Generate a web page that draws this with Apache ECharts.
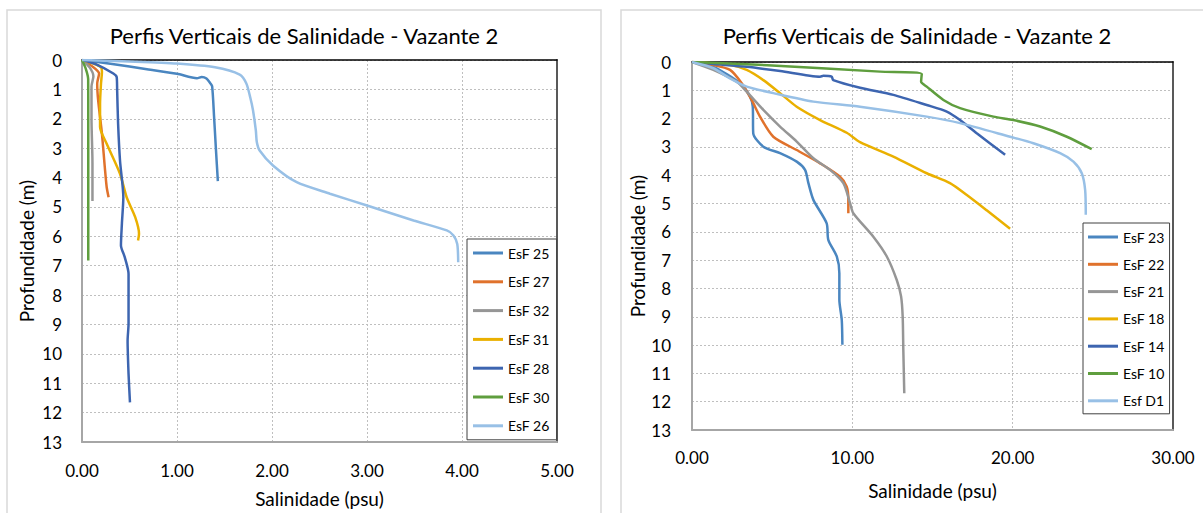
<!DOCTYPE html>
<html>
<head>
<meta charset="utf-8">
<script src="https://cdn.jsdelivr.net/npm/echarts@6/dist/echarts.min.js"></script>
<style>html,body{margin:0;padding:0;background:#fff;}#c{width:1203px;height:513px;}</style>
</head>
<body>
<div id="c"></div>
<script>
// ---- Data (salinity psu, depth m) ----
const titleText = 'Perfis Verticais de Salinidade - Vazante 2';
const xName = 'Salinidade (psu)';
const yName = 'Profundidade (m)';

// Left chart
const leftNames = ['EsF 25', 'EsF 27', 'EsF 32', 'EsF 31', 'EsF 28', 'EsF 30', 'EsF 26'];
const esf25 = [[0,0],[0.3,0.13],[0.7,0.32],[1.0,0.47],[1.21,0.62],[1.26,0.58],[1.31,0.63],[1.35,0.79],[1.37,0.9],[1.39,1.92],[1.41,3.05],[1.43,4.12]];
const esf27 = [[0,0],[0.1,0.2],[0.18,0.46],[0.16,0.8],[0.17,1.37],[0.21,2.51],[0.24,3.65],[0.26,4.33],[0.28,4.67]];
const esf32 = [[0,0],[0.08,0.25],[0.12,0.55],[0.1,0.9],[0.1,2.0],[0.11,3.5],[0.11,4.8]];
const esf31 = [[0,0],[0.12,0.12],[0.2,0.25],[0.21,0.4],[0.2,0.8],[0.19,1.5],[0.19,2.28],[0.26,2.85],[0.4,3.87],[0.47,4.67],[0.56,5.35],[0.6,5.91],[0.59,6.14]];
const esf28 = [[0,0],[0.15,0.15],[0.33,0.46],[0.365,0.58],[0.37,1.03],[0.38,2.17],[0.4,3.42],[0.435,4.67],[0.42,5.57],[0.41,6.31],[0.45,6.71],[0.49,7.28],[0.49,8.19],[0.49,8.98],[0.48,9.55],[0.49,10.68],[0.505,11.65]];
const esf30 = [[0,0],[0.04,0.3],[0.065,0.65],[0.066,2],[0.066,4],[0.066,6.82]];
const esf26 = [[0,0],[0.5,0.05],[1.0,0.12],[1.4,0.25],[1.66,0.5],[1.73,0.8],[1.77,1.26],[1.8,1.71],[1.83,2.4],[1.84,2.79],[1.87,3.08],[2.01,3.59],[2.26,4.16],[2.61,4.55],[3.0,4.95],[3.49,5.46],[3.84,5.8],[3.91,5.97],[3.95,6.26],[3.96,6.88]];
const leftData = [esf25, esf27, esf32, esf31, esf28, esf30, esf26];

// Right chart
const rightNames = ['EsF 23', 'EsF 22', 'EsF 21', 'EsF 18', 'EsF 14', 'EsF 10', 'Esf D1'];
const esf23 = [[0,0],[1.33,0.17],[2.99,0.75],[3.62,1.22],[3.79,1.58],[3.82,2.52],[4.45,2.99],[5.49,3.22],[6.53,3.52],[7.05,3.81],[7.26,4.28],[7.57,4.87],[8.4,5.7],[8.5,6.28],[9.03,6.87],[9.19,7.46],[9.19,8.4],[9.34,9.11],[9.38,9.99]];
const esf22 = [[0,0],[1.33,0.11],[2.37,0.28],[3.1,0.75],[3.72,1.34],[4.24,1.93],[5.07,2.64],[6.53,3.11],[7.99,3.58],[9.23,4.05],[9.65,4.4],[9.75,4.87],[9.75,5.34]];
const esf21 = [[0,0],[1.33,0.28],[2.79,0.7],[3.41,1.05],[4.45,1.69],[5.49,2.28],[6.53,2.81],[7.57,3.4],[8.61,3.81],[9.44,4.28],[9.86,4.99],[10.06,5.34],[11.31,6.17],[12.15,6.87],[12.77,7.7],[13.04,8.28],[13.14,8.99],[13.18,10.17],[13.24,11.7]];
const esf18 = [[0,0],[2.37,0.11],[3.41,0.28],[4.45,0.64],[5.49,1.1],[6.53,1.58],[7.99,2.05],[9.65,2.5],[10.48,2.83],[12.56,3.34],[14.64,3.93],[16.09,4.28],[17.14,4.7],[18.38,5.24],[19.84,5.89]];
const esf14 = [[0,0],[1.33,0.07],[3.41,0.17],[5.5,0.32],[7.99,0.52],[8.19,0.49],[8.71,0.52],[8.81,0.64],[10.48,0.91],[12.56,1.16],[14.64,1.52],[15.89,1.75],[16.72,2.05],[17.76,2.52],[19.53,3.28]];
const esf10 = [[0,0],[5,0.12],[11.73,0.34],[14.33,0.42],[14.29,0.7],[14.64,0.87],[15.68,1.34],[16.72,1.63],[18.8,1.93],[20.04,2.05],[21.71,2.28],[23.38,2.64],[24.93,3.08]];
const esfD1 = [[0,0],[1.33,0.22],[2.37,0.58],[3.41,0.87],[5.07,1.1],[7.57,1.4],[10.48,1.58],[14.64,1.93],[16.72,2.16],[19.84,2.64],[21.29,2.87],[22.96,3.22],[23.79,3.52],[24.31,3.93],[24.52,4.52],[24.56,5.4]];
const rightData = [esf23, esf22, esf21, esf18, esf14, esf10, esfD1];

const depthMin = 0, depthMax = 13, depthStep = 1;
const leftXMin = 0, leftXMax = 5, leftXStep = 1;
const rightXMin = 0, rightXMax = 30, rightXStep = 10;

// ---- Styles ----
const colors = ['#4A86C0', '#E0722C', '#969696', '#EAB000', '#3D65B0', '#5F9E3E', '#98C0E6'];
const FONT = 'Lato, "Open Sans", sans-serif';

function mainX(gi, min, max, step, labelMargin, nameGap) {
  return {
    gridIndex: gi, type: 'value', position: 'bottom', min: min, max: max, interval: step,
    axisLine: { show: true, onZero: false, lineStyle: { color: '#A6A6A6', width: 2 } },
    axisTick: { show: false },
    axisLabel: { color: '#000', fontSize: 17, fontFamily: FONT, margin: labelMargin, formatter: v => v.toFixed(2) },
    splitLine: { show: true, lineStyle: { color: '#BFBFBF', type: [2, 2], width: 1 } },
    name: xName, nameLocation: 'middle', nameGap: nameGap,
    nameTextStyle: { color: '#000', fontSize: 19, fontFamily: FONT }
  };
}
function topX(gi, min, max) {
  return {
    gridIndex: gi, type: 'value', position: 'top', min: min, max: max,
    axisLine: { show: true, onZero: false, lineStyle: { color: '#000', width: 1.5 } },
    axisTick: { show: false }, axisLabel: { show: false }, splitLine: { show: false }
  };
}
function mainY(gi, labelMargin, nameGap) {
  return {
    gridIndex: gi, type: 'value', inverse: true, position: 'left',
    min: depthMin, max: depthMax, interval: depthStep,
    axisLine: { show: true, onZero: false, lineStyle: { color: '#A6A6A6', width: 2 } },
    axisTick: { show: false },
    axisLabel: { color: '#000', fontSize: 17, fontFamily: FONT, margin: labelMargin },
    splitLine: { show: true, lineStyle: { color: '#BFBFBF', type: [2, 2], width: 1 } },
    name: yName, nameLocation: 'middle', nameGap: nameGap, nameRotate: 90,
    nameTextStyle: { color: '#000', fontSize: 19, fontFamily: FONT }
  };
}
function rightY(gi) {
  return {
    gridIndex: gi, type: 'value', inverse: true, position: 'right',
    min: depthMin, max: depthMax,
    axisLine: { show: true, onZero: false, lineStyle: { color: '#595959', width: 2 } },
    axisTick: { show: false }, axisLabel: { show: false }, splitLine: { show: false }
  };
}

const series = [];
leftNames.forEach((n, i) => series.push({
  name: n, type: 'line', xAxisIndex: 0, yAxisIndex: 0, data: leftData[i],
  smooth: 0.25, symbol: 'none', lineStyle: { width: 2.5, color: colors[i] }, itemStyle: { color: colors[i] }
}));
rightNames.forEach((n, i) => series.push({
  name: n, type: 'line', xAxisIndex: 2, yAxisIndex: 2, data: rightData[i],
  smooth: 0.25, symbol: 'none', lineStyle: { width: 2.5, color: colors[i] }, itemStyle: { color: colors[i] }
}));

const legendCommon = {
  orient: 'vertical', icon: 'path://M0,0L30,0L30,3L0,3Z', itemWidth: 30, itemHeight: 16,
  backgroundColor: '#fff', borderColor: '#404040', borderWidth: 1,
  textStyle: { color: '#000', fontSize: 14, lineHeight: 16, fontFamily: FONT }
};

const chart = echarts.init(document.getElementById('c'), null, { renderer: 'svg' });
chart.setOption({
  backgroundColor: '#fff',
  animation: false,
  grid: [
    { left: 82, top: 60, width: 475, height: 383 },
    { left: 692, top: 62, width: 481, height: 368 }
  ],
  xAxis: [
    mainX(0, leftXMin, leftXMax, leftXStep, 20, 47),
    topX(0, leftXMin, leftXMax),
    mainX(1, rightXMin, rightXMax, rightXStep, 19, 51),
    topX(1, rightXMin, rightXMax)
  ],
  yAxis: [
    mainY(0, 20, 46),
    rightY(0),
    mainY(1, 21, 45),
    rightY(1)
  ],
  legend: [
    Object.assign({}, legendCommon, { data: leftNames, left: 467, top: 239, itemGap: 12.8, padding: [6, 7, 6, 6] }),
    Object.assign({}, legendCommon, { data: rightNames, left: 1083, top: 223, itemGap: 11.3, padding: [6, 5, 5, 5] })
  ],
  graphic: [
    { type: 'rect', shape: { x: 7, y: 10, width: 594, height: 520 }, style: { fill: 'none', stroke: '#D9D9D9', lineWidth: 1.5 }, z: -10, silent: true },
    { type: 'rect', shape: { x: 621, y: 10, width: 600, height: 520 }, style: { fill: 'none', stroke: '#D9D9D9', lineWidth: 1.5 }, z: -10, silent: true },
    { type: 'text', x: 304, y: 35, style: { text: titleText, textAlign: 'center', textVerticalAlign: 'middle', font: '22px ' + FONT, fill: '#000' } },
    { type: 'text', x: 917, y: 35, style: { text: titleText, textAlign: 'center', textVerticalAlign: 'middle', font: '22px ' + FONT, fill: '#000' } }
  ],
  series: series
});
</script>
</body>
</html>
